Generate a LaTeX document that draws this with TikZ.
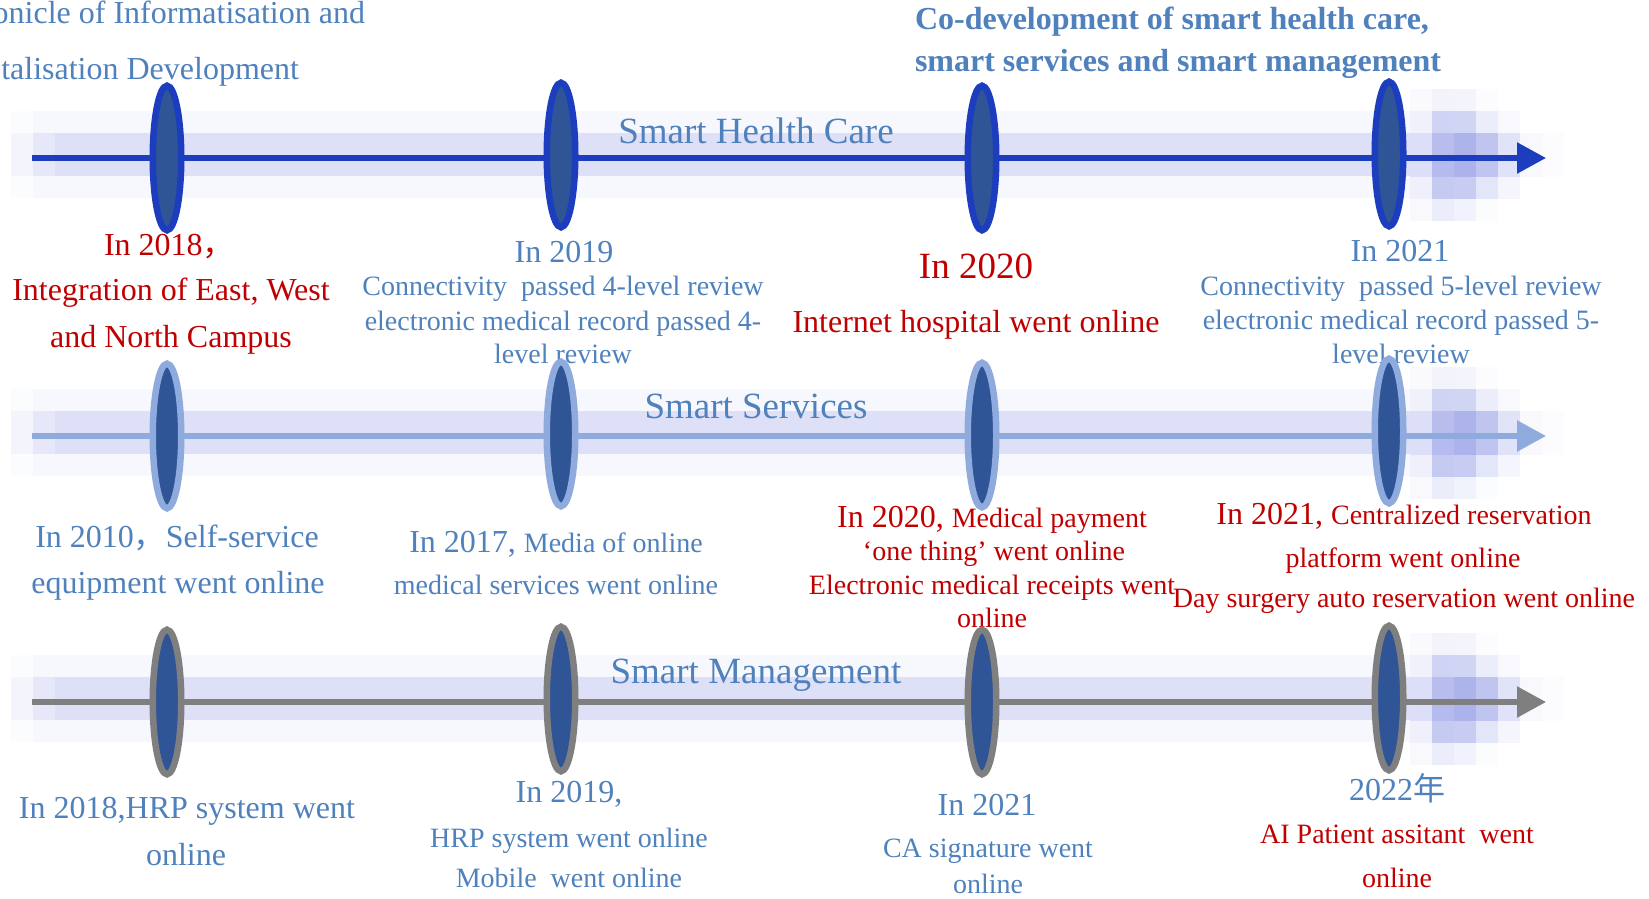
\documentclass[tikz,border=0pt]{standalone}
\usepackage{fontspec}
\setmainfont{Liberation Serif}
\newfontfamily\cjk{Noto Sans CJK SC}
\usetikzlibrary{shapes.geometric,arrows.meta}
\definecolor{txtblue}{RGB}{79,129,189}
\definecolor{txtred}{RGB}{192,0,0}
\definecolor{glow}{RGB}{165,172,234}
\definecolor{markfill}{RGB}{47,85,151}
\definecolor{lineA}{RGB}{27,61,190}
\definecolor{lineB}{RGB}{143,170,220}
\definecolor{lineC}{RGB}{127,127,127}
\begin{document}
\begin{tikzpicture}[x=1pt,y=-1pt,
  lbl/.style={inner sep=0pt, outer sep=0pt, anchor=base},
  bl/.style={lbl, text=txtblue},
  rd/.style={lbl, text=txtred},
  fA/.style={font=\fontsize{37}{44}\selectfont},
  fB/.style={font=\fontsize{32}{38}\selectfont},
  fBb/.style={font=\fontsize{32}{38}\selectfont\bfseries},
  fC/.style={font=\fontsize{28}{34}\selectfont},
  lens/.style={ellipse, draw=#1, fill=markfill, line width=6.5pt, minimum width=28.5pt, minimum height=144.5pt, inner sep=0pt},
  tline/.style={draw=#1, line width=5.5pt, -{Triangle[length=29pt,width=30pt]}},
]
\useasboundingbox (0,0) rectangle (1649,899);
\fill[white] (0,0) rectangle (1649,899);

% soft bands and glow blobs
\foreach \L in {158,436,702}{
  \fill[glow!4!white] (11,\L-47) rectangle (33,\L+40);
  \fill[glow!9!white] (33,\L-47) rectangle (1410,\L+40);
  \fill[glow!12!white] (11,\L-25) rectangle (33,\L+18);
  \fill[glow!28!white] (33,\L-25) rectangle (55,\L+18);
  \fill[glow!37!white] (55,\L-25) rectangle (1410,\L+18);
  \foreach \row [count=\j from 0] in {{6,14,12,3,0,0,0},{17,53,51,22,7,0,0},{39,79,91,70,33,7,3},{39,82,92,71,35,8,3},{18,64,61,31,11,0,0},{8,22,15,4,0,0,0}}{
    \foreach \v [count=\i from 0] in \row {
      \fill[glow!\v!white] (1410+22*\i,\L-69+22*\j) rectangle ++(22,22);
    }
  }
}

% timeline axes
\coordinate (s1) at (32,158); \coordinate (e1) at (1546,158);
\coordinate (s2) at (32,436); \coordinate (e2) at (1546,436);
\coordinate (s3) at (32,702); \coordinate (e3) at (1546,702);
\draw[tline=lineA] (s1) -- (e1);
\draw[tline=lineB] (s2) -- (e2);
\draw[tline=lineC] (s3) -- (e3);

% titles
\node[bl,fB,anchor=base east] (ttl1) at (365,24) {onicle of Informatisation and};
\node[bl,fB,anchor=base east] (ttl2) at (299,80) {talisation Development};
\node[bl,fBb,anchor=base west] (co1) at (915,30) {Co-development of smart health care,};
\node[bl,fBb,anchor=base west] (co2) at (915,71) {smart services and smart management};

% row labels
\node[bl,fA] (rl1) at (756,143) {Smart Health Care};
\node[bl,fA] (rl2) at (756,418) {Smart Services};
\node[bl,fA] (rl3) at (756,683) {Smart Management};

% row 1 texts
\node[rd,fB,anchor=base west] (a1y) at (104,255) {In 2018{\cjk ，}};
\node[rd,fB] (a1a) at (171,300) {Integration of East, West};
\node[rd,fB] (a1b) at (171,347) {and North Campus};
\node[bl,fB] (a2y) at (564,262) {In 2019};
\node[bl,fC] (a2a) at (563,295) {Connectivity\ \ passed 4-level review};
\node[bl,fC] (a2b) at (563,330) {electronic medical record passed 4-};
\node[bl,fC] (a2c) at (563,363) {level review};
\node[rd,fA] (a3y) at (976,278) {In 2020};
\node[rd,fB] (a3a) at (976,332) {Internet hospital went online};
\node[bl,fB] (a4y) at (1400,261) {In 2021};
\node[bl,fC] (a4a) at (1401,295) {Connectivity\ \ passed 5-level review};
\node[bl,fC] (a4b) at (1401,329) {electronic medical record passed 5-};
\node[bl,fC] (a4c) at (1401,363) {level review};

% row 2 texts
\node[bl,fB] (b1a) at (177,547) {In 2010{\cjk ，}Self-service};
\node[bl,fB] (b1b) at (178,593) {equipment went online};
\node[bl,fB] (b2a) at (556,552) {In 2017, {\fontsize{28}{34}\selectfont Media of online}};
\node[bl,fC] (b2b) at (556,594) {medical services went online};
\node[rd,fB] (b3a) at (992,527) {In 2020, {\fontsize{28}{34}\selectfont Medical payment}};
\node[rd,fC] (b3b) at (994,560) {‘one thing’ went online};
\node[rd,fC] (b3c) at (992,594) {Electronic medical receipts went};
\node[rd,fC] (b3d) at (992,627) {online};
\node[rd,fB] (b4a) at (1404,524) {In 2021, {\fontsize{28}{34}\selectfont Centralized reservation}};
\node[rd,fC] (b4b) at (1403,567) {platform went online};
\node[rd,fC] (b4c) at (1404,607) {Day surgery auto reservation went online};

% row 3 texts
\node[bl,fB] (c1a) at (187,818) {In 2018,HRP system went};
\node[bl,fB] (c1b) at (186,865) {online};
\node[bl,fB] (c2y) at (569,802) {In 2019,};
\node[bl,fC] (c2a) at (569,847) {HRP system went online};
\node[bl,fC] (c2b) at (569,887) {Mobile\ \ went online};
\node[bl,fB] (c3y) at (987,815) {In 2021};
\node[bl,fC] (c3a) at (988,857) {CA signature went};
\node[bl,fC] (c3b) at (988,893) {online};
\node[bl,fB] (c4y) at (1397,800) {2022{\cjk 年}};
\node[rd,fC] (c4a) at (1397,843) {AI Patient assitant\ \ went};
\node[rd,fC] (c4b) at (1397,887) {online};

% milestone lenses
\node[lens=lineA] (m11) at (167,158) {};
\node[lens=lineA] (m12) at (561,155) {};
\node[lens=lineA] (m13) at (982,158) {};
\node[lens=lineA] (m14) at (1389,154) {};
\node[lens=lineB] (m21) at (167,436) {};
\node[lens=lineB] (m22) at (561,434) {};
\node[lens=lineB] (m23) at (982,435) {};
\node[lens=lineB] (m24) at (1389,431) {};
\node[lens=lineC] (m31) at (167,702) {};
\node[lens=lineC] (m32) at (561,699) {};
\node[lens=lineC] (m33) at (982,702) {};
\node[lens=lineC] (m34) at (1389,698) {};
\end{tikzpicture}
\end{document}
